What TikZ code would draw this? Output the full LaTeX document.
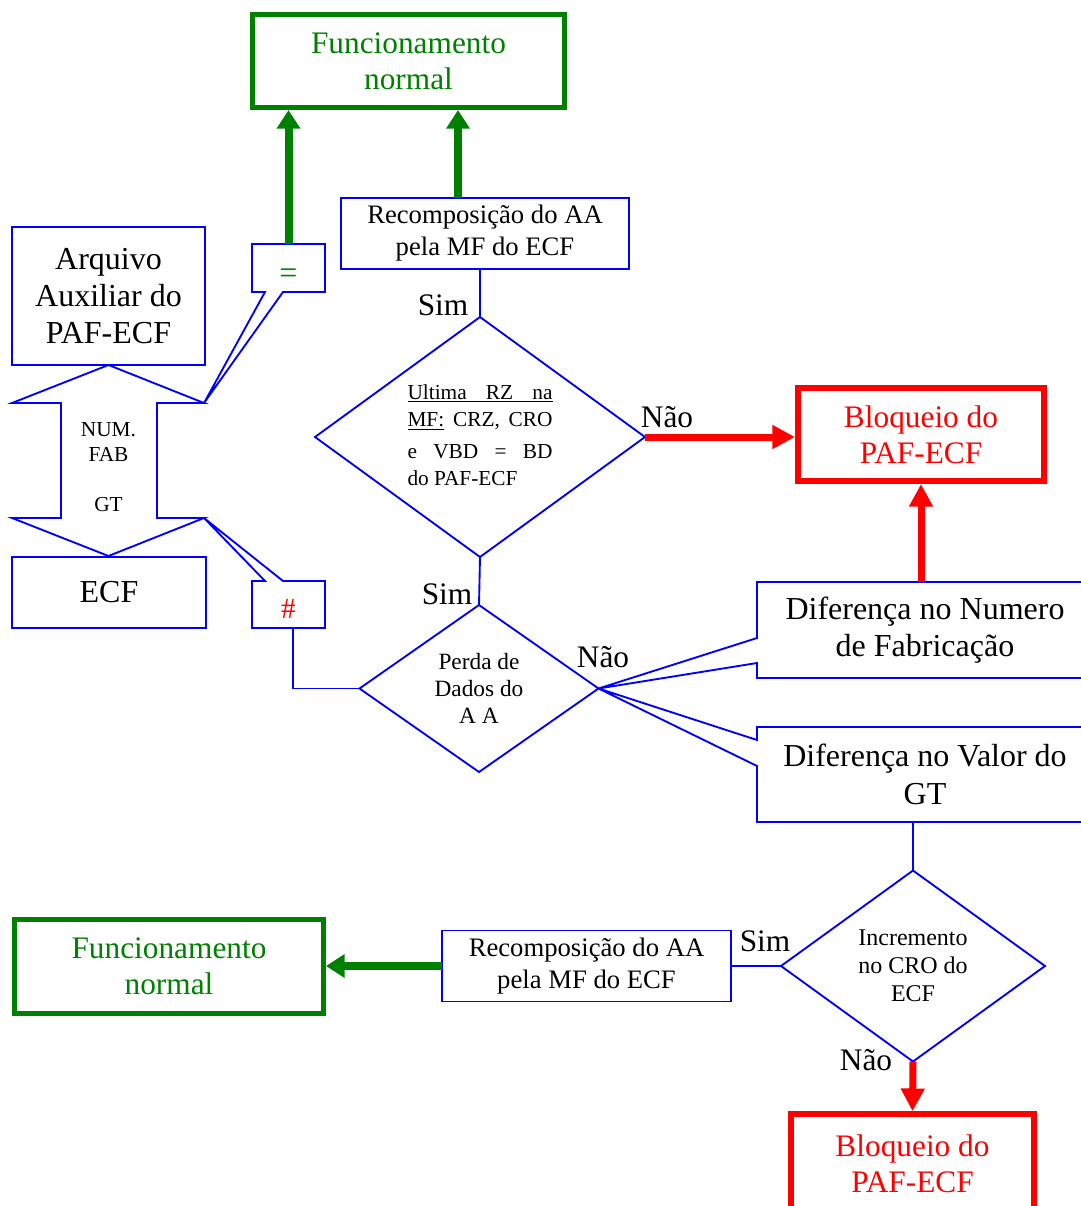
\documentclass[tikz,border=0pt]{standalone}
\usepackage{fontspec}
\setmainfont{Liberation Serif}
\usetikzlibrary{shapes.geometric,arrows.meta,calc}

\definecolor{flowblue}{RGB}{0,0,255}
\definecolor{flowgreen}{RGB}{0,128,0}
\definecolor{flowred}{RGB}{255,0,0}

\tikzset{
  link/.style={draw=flowblue, line width=1.4pt, line join=miter},
  blubox/.style={link, rectangle, align=center, inner sep=0pt, outer sep=0pt, font=\fontsize{20}{24}\selectfont},
  bigbox/.style={blubox, font=\fontsize{24}{27.75}\selectfont},
  calltext/.style={rectangle, inner sep=0pt, outer sep=0pt, align=center},
  grnbox/.style={draw=flowgreen, line width=3.75pt, text=flowgreen, align=center, inner sep=0pt, font=\fontsize{23.5}{27}\selectfont},
  redbox/.style={draw=flowred, line width=4.5pt, text=flowred, align=center, inner sep=0pt, font=\fontsize{23.5}{27}\selectfont},
  decision/.style={link, diamond, inner sep=0pt, outer sep=0pt, align=center},
  lbl/.style={inner sep=0pt, font=\fontsize{23.5}{27}\selectfont},
  grnarrow/.style={draw=flowgreen, line width=6pt, -{Triangle[length=14pt, width=17pt]}, flowgreen},
  redarrow/.style={draw=flowred, line width=5.25pt, -{Triangle[length=17pt, width=17pt]}, flowred},
}

\begin{document}
\begin{tikzpicture}[x=0.75pt, y=-0.75pt]
\useasboundingbox (0,0) rectangle (1081,1206);
\clip (0,0) rectangle (1081,1206);

% top part
\node[grnbox, minimum width=234pt, minimum height=69.75pt] (fn1) at (408.5,61) {Funcionamento\\normal};
\node[blubox, minimum width=216pt, minimum height=53.25pt] (rec1) at (485,233.5) {Recomposição do AA\\pela MF do ECF};
\node[calltext, minimum width=54.75pt, minimum height=36pt] (eq) at (288.5,268) {};
\node[text=flowgreen, font=\fontsize{24}{26}\selectfont, inner sep=0pt] (eqsign) at (288.5,276) {=};

% left part
\node[bigbox, minimum width=144.75pt, minimum height=103.5pt] (arq) at (108.5,296) {Arquivo\\Auxiliar do\\PAF-ECF};
\node[bigbox, minimum width=145.5pt, minimum height=53.25pt] (ecf) at (109,592.5) {ECF};
\coordinate (uptip) at (204,403);
\coordinate (dntip) at (204,518);
\draw[link] (108.5,365) -- (uptip) -- (157,403) -- (157,518) -- (dntip) -- (108.5,556)
  -- (12,518) -- (61,518) -- (61,403) -- (12,403) -- cycle;
\node[align=center, font=\fontsize{16}{18.75}\selectfont] (fab) at (108.5,467) {NUM.\\FAB\\[18.75pt]GT};
\node[calltext, minimum width=54.75pt, minimum height=35.25pt] (hash) at (288.5,604.5) {};
\node[text=flowred, font=\fontsize{22}{24}\selectfont, inner sep=0pt] (hashsign) at (288.5,609) {\#};

% callout outlines
\draw[link] (eq.north west) -- (eq.north east) -- (eq.south east) -- ($(eq.south west)+(31,0)$)
  -- (uptip) -- ($(eq.south west)+(13,0)$) -- (eq.south west) -- cycle;
\draw[link] (hash.south west) -- (hash.south east) -- (hash.north east) -- ($(hash.north west)+(31,0)$)
  -- (dntip) -- ($(hash.north west)+(13,0)$) -- (hash.north west) -- cycle;

% decisions
\node[decision, aspect=1.375, minimum width=247.5pt, minimum height=180pt, font=\fontsize{16}{20.5}\selectfont] (d1) at (480,437)
  {\begin{tabular}{@{}l@{}}
   \underline{\makebox[108.75pt][s]{Ultima RZ na}}\\
   \makebox[108.75pt][s]{\underline{MF:} CRZ, CRO}\\[3pt]
   \makebox[108.75pt][s]{e VBD = BD}\\
   do PAF-ECF
   \end{tabular}};
\node[decision, aspect=1.43, minimum width=179.25pt, minimum height=125.25pt, font=\fontsize{17.5}{20.25}\selectfont] (d2) at (479,688.5) {Perda de\\Dados do\\A A};
\node[decision, aspect=1.38, minimum width=198pt, minimum height=143.25pt, font=\fontsize{18}{21}\selectfont] (d3) at (913,966) {Incremento\\no CRO do\\ECF};

% right part
\node[redbox, minimum width=184.5pt, minimum height=69.75pt] (blk1) at (921,434.5) {Bloqueio do\\PAF-ECF};
\node[calltext, minimum width=252pt, minimum height=72pt, font=\fontsize{24}{28}\selectfont] (numcall) at (925,630) {Diferença no Numero\\de Fabricação};
\node[calltext, minimum width=252pt, minimum height=71.25pt, font=\fontsize{24}{28}\selectfont] (gtcall) at (925,774.5) {Diferença no Valor do\\GT};
\draw[link] (numcall.north west) -- (numcall.north east) -- (numcall.south east) -- (numcall.south west)
  -- ($(numcall.west)+(0,33)$) -- (d2.east) -- ($(numcall.west)+(0,8)$) -- cycle;
\draw[link] (gtcall.north west) -- (gtcall.north east) -- (gtcall.south east) -- (gtcall.south west)
  -- ($(gtcall.west)+(0,-8.5)$) -- (d2.east) -- ($(gtcall.west)+(0,-34.5)$) -- cycle;

% bottom part
\node[blubox, minimum width=216.75pt, minimum height=53.25pt] (rec2) at (586.5,966) {Recomposição do AA\\pela MF do ECF};
\node[grnbox, minimum width=231.75pt, minimum height=70.5pt] (fn2) at (169,966.5) {Funcionamento\\normal};
\node[redbox, minimum width=182.25pt, minimum height=74pt] (blk2) at (912.5,1163.5) {Bloqueio do\\PAF-ECF};

% connectors
\coordinate (g2) at ($(rec1.north)+(-27,0)$);
\draw[grnarrow] (eq.north) -- (eq.north |- fn1.south);
\draw[grnarrow] (g2) -- (g2 |- fn1.south);
\draw[link] (d1.north |- rec1.south) -- (d1.north);
\draw[link] (d1.south) -- (d2.north);
\draw[link] ($(hash.south)+(4.5,0)$) |- (d2.west);
\draw[redarrow] (d1.east) -- (d1.east -| blk1.west);
\draw[redarrow] (blk1.south |- numcall.north) -- (blk1.south);
\draw[link] (d3.north |- gtcall.south) -- (d3.north);
\draw[link] (d3.west) -- (d3.west -| rec2.east);
\draw[grnarrow] (rec2.west) -- (rec2.west -| fn2.east);
\draw[redarrow] (d3.south) -- (blk2.north);

% labels
\node[lbl] (sim1) at (443,305) {Sim};
\node[lbl] (nao1) at (667,417) {Não};
\node[lbl] (sim2) at (447,594) {Sim};
\node[lbl] (nao2) at (603,657) {Não};
\node[lbl] (sim3) at (765,941) {Sim};
\node[lbl] (nao3) at (866,1060) {Não};
\end{tikzpicture}
\end{document}
